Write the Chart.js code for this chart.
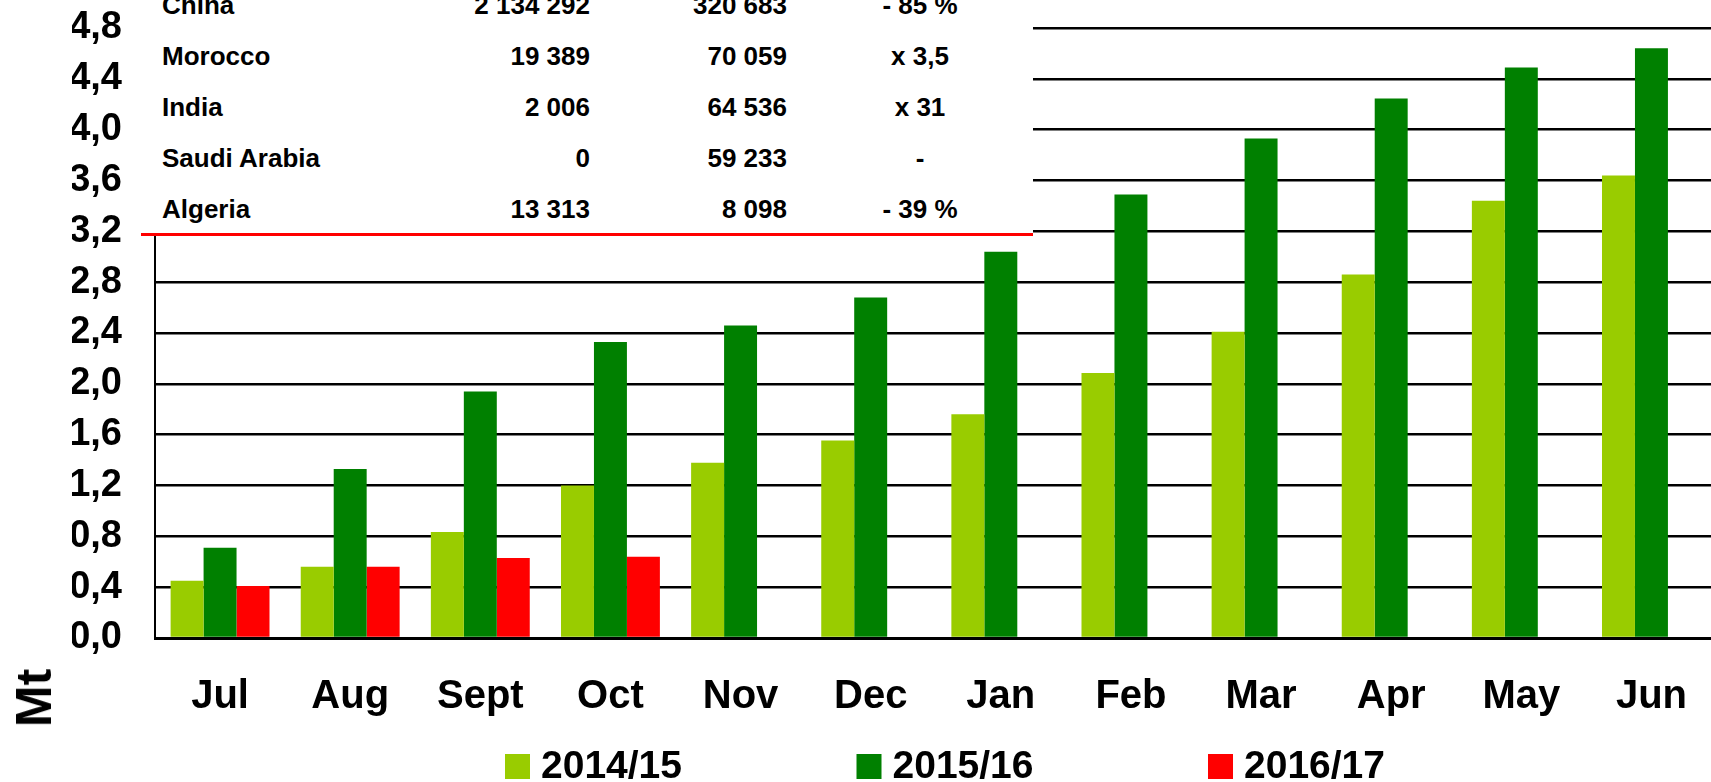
<!DOCTYPE html>
<html>
<head>
<meta charset="utf-8">
<script src="https://cdn.jsdelivr.net/npm/chart.js@4"></script>
<style>
  html, body { margin: 0; padding: 0; background: #fff; overflow: hidden; }
  #wrap { position: relative; width: 1722px; height: 782px; }
  #tbl {
    position: absolute; left: 141px; top: 0; width: 892px; height: 233px;
    background: #fff; border-bottom: 3px solid #ff0000; overflow: hidden;
    font: bold 26px "Liberation Sans", Arial, sans-serif; color: #000;
  }
  #tbl .c { position: absolute; line-height: 26px; white-space: nowrap; }
  #mt {
    position: absolute; left: 34px; top: 698px;
    transform: translate(-50%, -50%) rotate(-90deg);
    font: bold 50px "Liberation Sans", Arial, sans-serif; white-space: nowrap;
  }
</style>
</head>
<body>
<div id="wrap">
  <canvas id="chart"></canvas>
  <div id="tbl"></div>
  <div id="mt">Mt</div>
</div>
<script>
  // months on x axis
  var months = ['Jul', 'Aug', 'Sept', 'Oct', 'Nov', 'Dec', 'Jan', 'Feb', 'Mar', 'Apr', 'May', 'Jun'];
  // cumulated volumes, Mt
  var v1415 = [0.45, 0.56, 0.835, 1.20, 1.38, 1.555, 1.76, 2.085, 2.41, 2.86, 3.44, 3.64];
  var v1516 = [0.71, 1.33, 1.94, 2.33, 2.46, 2.68, 3.04, 3.49, 3.93, 4.245, 4.49, 4.64];
  var v1617 = [0.41, 0.56, 0.63, 0.64, null, null, null, null, null, null, null, null];
  var seriesNames = ['2014/15', '2015/16', '2016/17'];

  // table in the top left corner
  var countries = ['China', 'Morocco', 'India', 'Saudi Arabia', 'Algeria'];
  var colA = ['2 134 292', '19 389', '2 006', '0', '13 313'];
  var colB = ['320 683', '70 059', '64 536', '59 233', '8 098'];
  var colChange = ['- 85 %', 'x 3,5', 'x 31', '-', '- 39 %'];

  var FONT = '"Liberation Sans", Arial, sans-serif';

  // build the table
  var tbl = document.getElementById('tbl');
  countries.forEach(function(name, i) {
    var top = -8 + i * 51;
    var cells = [
      {t: name, css: 'left:21px;'},
      {t: colA[i], css: 'right:' + (892 - 449) + 'px;'},
      {t: colB[i], css: 'right:' + (892 - 646) + 'px;'},
      {t: colChange[i], css: 'left:779px;transform:translateX(-50%);'}
    ];
    cells.forEach(function(c) {
      var d = document.createElement('div');
      d.className = 'c';
      d.style.cssText = 'top:' + top + 'px;' + c.css;
      d.textContent = c.t;
      tbl.appendChild(d);
    });
  });

  // legend drawn by hand so it sits where the original one is
  var legendPlugin = {
    id: 'bottomLegend',
    afterDraw: function(chart) {
      var ctx = chart.ctx;
      ctx.save();
      ctx.font = 'bold 39px ' + FONT;
      ctx.textBaseline = 'middle';
      ctx.textAlign = 'left';
      chart.data.datasets.forEach(function(ds, i) {
        var x = 505 + i * 351.5;
        ctx.fillStyle = ds.backgroundColor;
        ctx.fillRect(x, 754, 25, 25);
        ctx.fillStyle = '#000';
        ctx.fillText(ds.label, x + 36, 767);
      });
      ctx.restore();
    }
  };

  var colors = ['#99cc00', '#008000', '#ff0000'];
  var values = [v1415, v1516, v1617];

  new Chart(document.getElementById('chart'), {
    type: 'bar',
    data: {
      labels: months,
      datasets: values.map(function(v, i) {
        return {
          label: seriesNames[i],
          data: v,
          backgroundColor: colors[i],
          borderWidth: 0,
          categoryPercentage: 0.76,
          barPercentage: 1.0
        };
      })
    },
    plugins: [legendPlugin],
    options: {
      responsive: true,
      maintainAspectRatio: false,
      animation: false,
      layout: { padding: { left: 72, top: 28, right: 0, bottom: 62 } },
      plugins: {
        legend: { display: false },
        tooltip: { enabled: false }
      },
      scales: {
        x: {
          afterFit: function(s) { s.height = 82; },
          grid: { display: false, drawTicks: false },
          border: { display: true, color: '#000', width: 3 },
          ticks: {
            color: '#000',
            font: { family: FONT, size: 40, weight: 'bold' },
            padding: 35,
            maxRotation: 0,
            autoSkip: false
          }
        },
        y: {
          min: 0,
          max: 4.8,
          afterFit: function(s) {
            s.width = 83;
            s.paddingTop = 0;
            s.paddingBottom = 0;
          },
          grid: { color: '#000', lineWidth: 2.5, drawTicks: false },
          border: { display: true, color: '#000', width: 2 },
          ticks: {
            stepSize: 0.4,
            autoSkip: false,
            color: '#000',
            padding: 33,
            font: { family: FONT, size: 38, weight: 'bold' },
            callback: function(v) { return v.toFixed(1).replace('.', ','); }
          }
        }
      }
    }
  });
</script>
</body>
</html>
